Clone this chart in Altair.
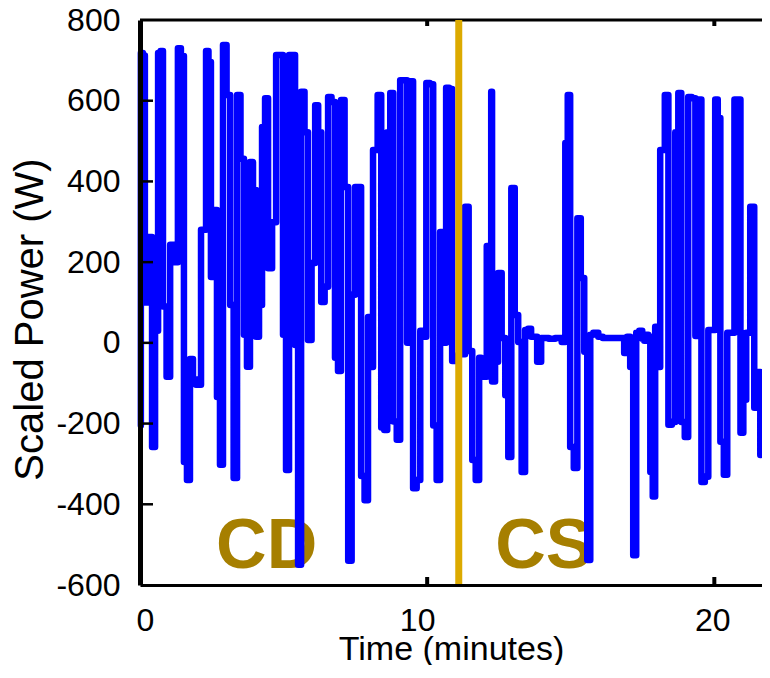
import altair as alt
import pandas as pd

# ---- data (time in minutes, scaled power in W) ----
# each entry is one vertical excursion of the trace: its time, top and bottom value
col_time = [0.03, 0.17, 0.42, 0.63, 0.80, 1.05, 1.32, 1.53, 1.74, 1.95,
            2.30, 2.47, 2.68, 2.89, 3.14, 3.38, 3.62, 3.83, 4.04, 4.25,
            4.46, 4.74, 4.98, 5.19, 5.40, 5.61, 5.85, 6.10, 6.31, 6.55,
            6.79, 7.00, 7.25, 7.49, 7.70, 7.94, 8.08, 8.15, 8.40, 8.61,
            8.82, 9.06, 9.30, 9.51, 9.76, 9.97, 10.21, 10.45, 10.66, 10.87,
            11.32, 11.57, 11.81, 11.95, 12.20, 12.26, 12.47, 12.72, 12.93, 13.17,
            13.41, 13.62, 13.83, 14.11, 14.36, 14.56, 14.81, 14.98, 15.23, 15.47,
            15.68, 15.89, 16.03, 16.20, 16.45, 16.66, 16.86, 17.07, 17.28, 17.49,
            17.63, 17.77, 17.94, 18.08, 18.15, 18.40, 18.64, 18.85, 19.09, 19.34,
            19.55, 19.79, 20.03, 20.21, 20.45, 20.70, 20.91, 21.11, 21.39, 21.60]
col_high = [718, 712, 262, 718, 723, 243, 730, 711, -40, -90,
            723, 696, 329, 738, 614, 614, 456, 448, 379, 535,
            606, 713, 713, 713, 713, 622, 522, 589, 522, 609,
            597, 602, 386, 386, 386, 64, -60, 478, 614, 522,
            619, 651, 651, 648, 30, 644, 641, 275, 632, 629,
            337, -20, -37, -84, 240, 622, 173, 12, 384, 69,
            32, 35, 15, 12, 10, 12, 495, 614, 309, 161,
            20, 25, 15, 12, 12, 12, 12, 15, 25, 30,
            20, 15, 40, -60, 478, 614, 522, 619, 609, 606,
            603, 32, 603, 557, 25, 603, 603, 25, 337, -72]
col_low = [-205, 100, -258, 30, 90, -84, 200, -295, -340, -104,
           280, 163, -134, -302, 94, -335, 20, -59, 15, 94,
           185, 299, 20, -315, -5, -550, 7, 198, 101, 139,
           -37, -70, -540, 119, -330, -390, -60, 478, -210, -216,
           -195, -240, 0, -360, -340, 15, -205, -340, 0, -45,
           -28, -290, -340, -84, 240, -96, -47, -130, -283, 2,
           -320, 15, -47, 12, 10, 12, 2, -258, -310, -22,
           -538, 25, 15, 12, 12, 12, -25, -60, -526, 10,
           5, -320, -381, -60, 478, -203, -196, -196, -233, 17,
           -345, -332, 32, -245, -327, 25, -223, -141, -161, -278]

phase_names = ["CD", "CS"]
phase_label_time = [4.41, 14.06]
phase_label_power = [-558, -558]
switch_time = [11.10]

y_tick_values = [-600, -400, -200, 0, 200, 400, 600, 800]
x_tick_values = [0, 10, 20]
inner_y_ticks = [-400, -200, 0, 200, 400, 600]
inner_x_ticks = [10, 20]

# ---- order the points of each excursion so the trace travels the least between them ----
n = len(col_time)


def ends(i, o):
    h, l = col_high[i], col_low[i]
    return (h, l) if o == 0 else (l, h)


cost = [[0.0, 0.0]]
back = [[0, 0]]
for i in range(1, n):
    row, brow = [], []
    for o in (0, 1):
        s, _ = ends(i, o)
        best, bo = None, 0
        for po in (0, 1):
            _, e = ends(i - 1, po)
            c = cost[i - 1][po] + abs(e - s)
            if best is None or c < best:
                best, bo = c, po
        row.append(best)
        brow.append(bo)
    cost.append(row)
    back.append(brow)

o = 0 if cost[-1][0] <= cost[-1][1] else 1
orient = [0] * n
for i in range(n - 1, -1, -1):
    orient[i] = o
    if i > 0:
        o = back[i][o]

rows = []
for i in range(n):
    a, b = ends(i, orient[i])
    rows.append((col_time[i], a))
    if b != a:
        rows.append((col_time[i], b))
trace = pd.DataFrame(rows, columns=["t", "p"])
trace["seq"] = range(len(trace))

labels_df = pd.DataFrame({"name": phase_names, "t": phase_label_time, "p": phase_label_power})
switch_df = pd.DataFrame({"t": switch_time})
ytick_df = pd.DataFrame({"v": inner_y_ticks})
xtick_df = pd.DataFrame({"v": inner_x_ticks})

W, H = 622, 565
FONT = "Liberation Sans"
xs = alt.Scale(domain=[0, 21.66], nice=False, zero=False)
ys = alt.Scale(domain=[-600, 800], nice=False, zero=False)

hyphen_labels = "replace(datum.label, '\u2212', '-')"

x_axis = alt.Axis(
    orient="bottom", values=x_tick_values, title="Time (minutes)", grid=False, ticks=False,
    domainWidth=3, domainColor="black", labelFont=FONT, labelFontSize=32,
    labelColor="black", labelPadding=20, labelFlush=False, labelExpr=hyphen_labels,
    labelOffset={"condition": [{"test": "datum.value == 0", "value": 5},
                               {"test": "datum.value == 10", "value": -10}],
                 "value": -2},
    titleFont=FONT, titleFontSize=34, titleFontWeight="normal", titleColor="black",
    titleBaseline="alphabetic", titleY=74, zindex=1)
y_axis = alt.Axis(
    orient="left", values=y_tick_values, title="Scaled Power (W)", grid=False, ticks=False,
    domainWidth=5, domainColor="black", labelFont=FONT, labelFontSize=32,
    labelColor="black", labelPadding=20, labelExpr=hyphen_labels,
    titleFont=FONT, titleFontSize=40, titleFontWeight="normal", titleColor="black",
    titleBaseline="alphabetic", titleAlign="center", titleAngle=270,
    titleX=-98, titleY=299, zindex=1)

text = alt.Chart(labels_df).mark_text(
    font=FONT, fontWeight="bold", fontSize=70, color="#a67f00", align="center",
    baseline="alphabetic"
).encode(
    x=alt.X("t:Q", scale=xs, axis=x_axis),
    y=alt.Y("p:Q", scale=ys, axis=y_axis),
    text="name:N",
)

line = alt.Chart(trace).mark_line(
    color="#0000ff", strokeWidth=6.5, strokeCap="round", strokeJoin="round",
    interpolate="step"
).encode(
    x=alt.X("t:Q", scale=xs, axis=x_axis),
    y=alt.Y("p:Q", scale=ys, axis=y_axis),
    order="seq:Q",
)

top_border = alt.Chart(switch_df).mark_rule(color="black", strokeWidth=3).encode(
    x=alt.value(0), x2=alt.value(W), y=alt.value(0)
)

ytick = alt.Chart(ytick_df).mark_rule(color="black", strokeWidth=2.5).encode(
    y=alt.Y("v:Q", scale=ys, axis=y_axis), x=alt.value(0), x2=alt.value(13)
)
xtick_bottom = alt.Chart(xtick_df).mark_rule(color="black", strokeWidth=4).encode(
    x=alt.X("v:Q", scale=xs, axis=x_axis), y=alt.value(H), y2=alt.value(H - 8)
)
xtick_top = alt.Chart(xtick_df).mark_rule(color="black", strokeWidth=4).encode(
    x=alt.X("v:Q", scale=xs, axis=x_axis), y=alt.value(0), y2=alt.value(6)
)

gold = alt.Chart(switch_df).mark_rule(color="#dcaa00", strokeWidth=7).encode(
    x=alt.X("t:Q", scale=xs, axis=x_axis)
)

chart = alt.layer(
    text, line, top_border, ytick, xtick_bottom, xtick_top, gold
).properties(
    width=W, height=H,
    padding={"left": 132, "top": 12, "right": 0, "bottom": 80},
    autosize=alt.AutoSizeParams(type="none"),
    background="white",
).configure_view(strokeWidth=0)

chart.save("out.html", embed_options={"renderer": "svg", "actions": False})
